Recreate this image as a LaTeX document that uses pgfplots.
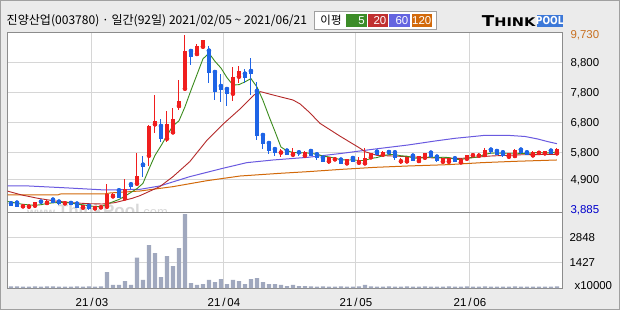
\documentclass[border=0pt]{standalone}
\usepackage{pgfplots}
\pgfplotsset{compat=1.18}
\usepackage{pgfplotstable}
\usepackage{fontspec}
\setmainfont{Liberation Sans}
\newfontfamily\kr{Noto Sans CJK KR}
\newfontfamily\dvb{DejaVu Sans}[BoldFont={DejaVu Sans Bold}]
\definecolor{bg}{HTML}{EBEBEB}
\definecolor{outer}{HTML}{A0A0A0}
\definecolor{framec}{HTML}{8C8C8C}
\definecolor{gridc}{HTML}{D6D6D6}
\definecolor{candup}{HTML}{F01E1E}
\definecolor{canddn}{HTML}{1E64E6}
\definecolor{maA}{HTML}{3C8C1E}
\definecolor{maB}{HTML}{B42828}
\definecolor{maC}{HTML}{6A5AE0}
\definecolor{maD}{HTML}{D2690A}
\definecolor{volc}{HTML}{A0A8BE}
\definecolor{lblhi}{HTML}{C87020}
\definecolor{lbllo}{HTML}{0000CC}
\definecolor{lgA}{HTML}{3C8C28}
\definecolor{lgB}{HTML}{C03030}
\definecolor{lgC}{HTML}{6464E0}
\definecolor{lgD}{HTML}{D2690A}
\definecolor{wm}{HTML}{D8D8D8}
\definecolor{logob}{HTML}{3C78D8}

\pgfplotstableread{
x o h l c
2 4023 4060 4010 4045
3 4012 4055 4000 4045
4 4045 4170 4040 4156
6 4134 4230 4120 4212
9 4123 4170 4110 4156
12 3979 4070 3970 4056
14 3956 4045 3945 4034
15 3990 4050 3980 4034
16 4012 4767 4000 4422
17 4356 4460 4340 4445
19 4290 4922 4190 4600
21 4778 5789 4756 5045
23 5711 6730 5350 6700
24 6756 7733 6478 6867
26 6278 7200 6167 6767
27 6489 7300 6456 6933
28 7367 8233 7233 7533
29 7944 9730 7922 9200
31 9100 9422 9033 9378
32 9344 9580 9330 9567
37 7778 8678 7533 8333
38 8344 8711 8144 8533
45 5815 5922 5656 5850
47 5744 5967 5722 5844
49 5711 5860 5700 5844
53 5522 5670 5444 5656
54 5589 5667 5533 5633
56 5456 5610 5445 5600
58 5478 5656 5444 5567
59 5456 5956 5444 5633
60 5656 5811 5589 5789
62 5744 5867 5689 5822
65 5522 5644 5444 5578
66 5522 5680 5510 5667
68 5533 5700 5478 5690
69 5644 5800 5633 5789
72 5511 5645 5500 5633
73 5511 5640 5500 5622
75 5489 5620 5478 5611
76 5611 5745 5567 5733
77 5725 5811 5667 5760
78 5711 5789 5700 5778
79 5733 5967 5722 5900
83 5678 5800 5667 5789
84 5700 5922 5690 5911
87 5722 5856 5700 5822
88 5805 5856 5745 5840
89 5789 5870 5780 5856
91 5789 5967 5733 5933
}\upc

\pgfplotstableread{
x o h l c
0 4123 4150 4030 4045
1 4145 4170 3985 4001
5 4178 4200 4120 4134
7 4245 4280 4130 4145
8 4178 4190 4080 4100
10 4134 4150 4060 4078
11 4112 4130 3960 3979
13 4034 4050 3885 3934
18 4556 4570 4300 4312
20 4756 4845 4590 4656
22 5411 5700 5011 5322
25 6700 6922 6178 6256
30 9200 9240 8744 9011
33 9211 9378 8122 8478
34 8500 8510 7567 7844
35 8033 8433 7500 7900
36 7933 7989 7378 7778
39 8444 8589 8122 8311
40 8533 8978 7733 8444
41 7867 8156 6233 6378
42 6400 6400 5933 6111
43 6133 6150 5767 5878
44 5930 6011 5700 5790
46 5878 5900 5730 5744
48 5822 5878 5711 5789
50 5867 5880 5690 5700
51 5756 5800 5567 5644
52 5644 5656 5490 5500
55 5578 5590 5430 5444
57 5633 5645 5500 5511
61 5844 5855 5720 5733
63 5833 5845 5745 5756
64 5822 5833 5556 5644
67 5711 5722 5520 5533
70 5811 5867 5633 5656
71 5678 5711 5500 5533
74 5622 5635 5500 5511
80 5911 5933 5778 5822
81 5867 5889 5722 5744
82 5822 5845 5678 5700
85 5911 5925 5778 5789
86 5822 5845 5722 5722
90 5878 5900 5756 5778
}\dnc

\pgfplotstableread{
x v
0 85
1 85
2 80
3 80
4 85
5 80
6 85
7 85
8 80
9 80
10 80
11 85
12 80
13 85
14 80
15 85
16 899
17 169
18 169
19 393
20 169
21 1705
22 450
23 2417
24 1967
25 618
26 1798
27 1236
28 2248
29 4159
30 281
31 169
32 225
33 450
34 337
35 506
36 225
37 450
38 393
39 225
40 506
41 562
42 337
43 225
44 225
45 169
46 112
47 169
48 112
49 112
50 85
51 80
52 85
53 80
54 80
55 85
56 80
57 80
58 85
59 169
60 85
61 80
62 80
63 85
64 80
65 80
66 85
67 80
68 80
69 85
70 80
71 80
72 80
73 85
74 80
75 80
76 85
77 80
78 80
79 85
80 80
81 80
82 80
83 80
84 85
85 80
86 80
87 80
88 80
89 80
90 80
91 85
}\vol

\begin{document}
\begin{tikzpicture}[x=1bp,y=1bp]
\useasboundingbox (0,0) rectangle (620,310);
\fill[bg] (0,0) rectangle (620,310);
\draw[outer, line width=1.2bp] (0.6,0.6) rectangle (619.4,309.4);
\fill[white] (7.5,22) rectangle (562,278);
\begin{scope}
\clip (7.5,98) rectangle (562,278);
\node[anchor=south west, inner sep=0, text=wm, font=\bfseries\fontsize{17}{17}\selectfont] at (27,93) {{\fontsize{12}{12}\selectfont www.}ThinkPool{\mdseries\fontsize{13}{13}\selectfont .com}};
\end{scope}

% title
\node[anchor=west, inner sep=0, font=\kr\fontsize{12.1}{13}\selectfont] at (6.5,289.5) {진양산업(003780) · 일간(92일) 2021/02/05 \textasciitilde{} 2021/06/21};
% MA legend box
\draw[outer, fill=white, line width=1bp] (314.7,280.7) rectangle (436,298.3);
\node[font=\kr\fontsize{11.5}{12}\selectfont, inner sep=0] at (331,289.5) {이평};
\fill[lgA] (346,283) rectangle (366.7,296);
\fill[lgB] (367.7,283) rectangle (388,296);
\fill[lgC] (389,283) rectangle (410,296);
\fill[lgD] (411.7,283) rectangle (432,296);
\begin{scope}[every node/.style={anchor=east, inner sep=0, text=white, font=\fontsize{11.5}{12}\selectfont}]
\node at (365,289.3) {5};
\node at (386.5,289.3) {20};
\node at (408.5,289.3) {60};
\node at (431.5,289.3) {120};
\end{scope}
% logo
\node[anchor=west, inner sep=0, font=\dvb\bfseries] at (481.7,289) {\scalebox{1.22}[1]{{\fontsize{15}{15}\selectfont T}{\fontsize{12}{12}\selectfont HINK}}};
\fill[logob] (536.7,283) rectangle (562.7,295);
\node[anchor=center, inner sep=0, text=white, font=\dvb\bfseries\fontsize{11}{11}\selectfont] at (549.7,289) {\scalebox{0.82}[1]{POOL}};

% price panel
\begin{axis}[
  at={(7.5bp,98bp)}, anchor=south west, scale only axis,
  width=554.5bp, height=180bp,
  xmin=-0.58, xmax=91.85, ymin=3833, ymax=9833,
  axis line style={draw=framec, line width=1bp},
  major tick length=0pt,
  xtick={13.5,35.5,57.5,76.5}, xticklabels={},
  ytick={4900,5800,6800,7800,8800},
  yticklabels={{4,900},{5,800},{6,800},{7,800},{8,800}},
  extra y ticks={3885,9730},
  extra y tick labels={{\textcolor{lbllo}{3,885}},{\textcolor{lblhi}{9,730}}},
  extra y tick style={grid=none},
  yticklabel pos=right,
  yticklabel style={font=\fontsize{11.5}{12}\selectfont, anchor=west, xshift=5bp},
  xmajorgrids, ymajorgrids,
  major grid style={draw=gridc, line width=1bp},
]
\addplot[maD, line width=1bp] coordinates {(-0.6,4400) (7.8,4400) (8.2,4433) (15.7,4440) (16.5,4467) (21.5,4533) (27,4678) (32.7,4878) (38.2,5033) (44.8,5122) (49.5,5178) (55.2,5256) (60.7,5322) (66.2,5367) (72.8,5411) (78.5,5478) (84,5522) (91,5567)};
\addplot[maC, line width=1bp] coordinates {(-0.6,4700) (3,4700) (9,4640) (15.7,4567) (21.5,4589) (24.8,4700) (29.8,5011) (35.3,5289) (39.3,5478) (43.7,5567) (49.5,5656) (55.2,5789) (60.7,5933) (66.2,6067) (70.7,6200) (74,6289) (76.8,6344) (79,6389) (82.8,6389) (85.7,6350) (87.8,6267) (89.5,6178) (91,6110)};
\addplot[maB, line width=0.9bp] coordinates {(-0.6,4530) (1.8,4400) (4.5,4289) (7.3,4200) (10.2,4144) (12.8,4111) (15.2,4100) (17.3,4144) (20.2,4289) (21.5,4378) (24.8,4678) (27,5011) (29.8,5511) (32.7,6233) (35.5,6789) (38.3,7289) (40.5,7733) (41.6,7844) (43.7,7733) (47,7567) (48.2,7434) (49.8,7144) (51.5,6789) (54.8,6367) (58.2,5956) (59,5844) (61,5720) (66,5680) (70,5640) (75,5620) (77,5650) (80,5700) (85,5740) (91,5755)};
\addplot[maA, line width=0.9bp] coordinates {(-0.6,4180) (0,4170) (1,4120) (2,4090) (3,4070) (4,4058) (5,4076) (6,4118) (7,4138) (8,4149) (9,4149) (10,4138) (11,4092) (12,4074) (13,4041) (14,4016) (15,4007) (16,4096) (17,4174) (18,4249) (19,4363) (20,4487) (21,4612) (22,4787) (23,5265) (24,5718) (25,6038) (26,6382) (27,6705) (28,6871) (29,7338) (30,7889) (31,8411) (32,8938) (33,9127) (34,8856) (35,8633) (36,8313) (37,8067) (38,8078) (39,8171) (40,8280) (41,8000) (42,7555) (43,7024) (44,6520) (45,5999) (46,5873) (47,5819) (48,5801) (49,5812) (50,5784) (51,5764) (52,5695) (53,5669) (54,5627) (55,5575) (56,5567) (57,5569) (58,5551) (59,5551) (60,5620) (61,5647) (62,5709) (63,5747) (64,5749) (65,5707) (66,5693) (67,5636) (68,5622) (69,5651) (70,5667) (71,5640) (72,5660) (73,5647) (74,5591) (75,5582) (76,5622) (77,5645) (78,5677) (79,5754) (80,5797) (81,5799) (82,5789) (83,5791) (84,5793) (85,5787) (86,5782) (87,5807) (88,5814) (89,5803) (90,5801) (91,5843)};
% wicks
\addplot[candup, only marks, mark=none, forget plot,
  error bars/.cd, y dir=both, y explicit, error mark=none,
  error bar style={line width=1bp, color=candup}]
  table[x=x, y=o, y error plus expr=\thisrow{h}-\thisrow{o}, y error minus expr=\thisrow{o}-\thisrow{l}] {\upc};
\addplot[canddn, only marks, mark=none, forget plot,
  error bars/.cd, y dir=both, y explicit, error mark=none,
  error bar style={line width=1bp, color=canddn}]
  table[x=x, y=o, y error plus expr=\thisrow{h}-\thisrow{o}, y error minus expr=\thisrow{o}-\thisrow{l}] {\dnc};
% bodies
\addplot[candup, only marks, mark=none, forget plot,
  error bars/.cd, y dir=plus, y explicit, error mark=none,
  error bar style={line width=4.6bp, color=candup}]
  table[x=x, y=o, y error plus expr=\thisrow{c}-\thisrow{o}] {\upc};
\addplot[canddn, only marks, mark=none, forget plot,
  error bars/.cd, y dir=minus, y explicit, error mark=none,
  error bar style={line width=4.6bp, color=canddn}]
  table[x=x, y=o, y error minus expr=\thisrow{o}-\thisrow{c}] {\dnc};
\end{axis}

% volume panel
\begin{axis}[
  at={(7.5bp,22bp)}, anchor=south west, scale only axis,
  width=554.5bp, height=76bp,
  xmin=-0.58, xmax=91.85, ymin=0, ymax=4272,
  axis line style={draw=framec, line width=1bp},
  major tick length=0pt,
  xtick={13.5,35.5,57.5,76.5},
  xticklabels={21\,/\,03,21\,/\,04,21\,/\,05,21\,/\,06},
  xticklabel style={font=\fontsize{11.5}{12}\selectfont, yshift=-6.5bp},
  ytick={1427,2848}, yticklabels={1427,2848},
  extra y ticks={112}, extra y tick labels={x10000},
  extra y tick style={grid=none, yticklabel style={xshift=5bp}},
  yticklabel pos=right,
  yticklabel style={font=\fontsize{11.5}{12}\selectfont, anchor=west, xshift=4bp},
  xmajorgrids, ymajorgrids,
  major grid style={draw=gridc, line width=1bp},
]
\addplot[ybar, bar width=4.3bp, bar shift=0pt, fill=volc, draw=none] table[x=x, y=v] {\vol};
\end{axis}
\end{tikzpicture}
\end{document}
